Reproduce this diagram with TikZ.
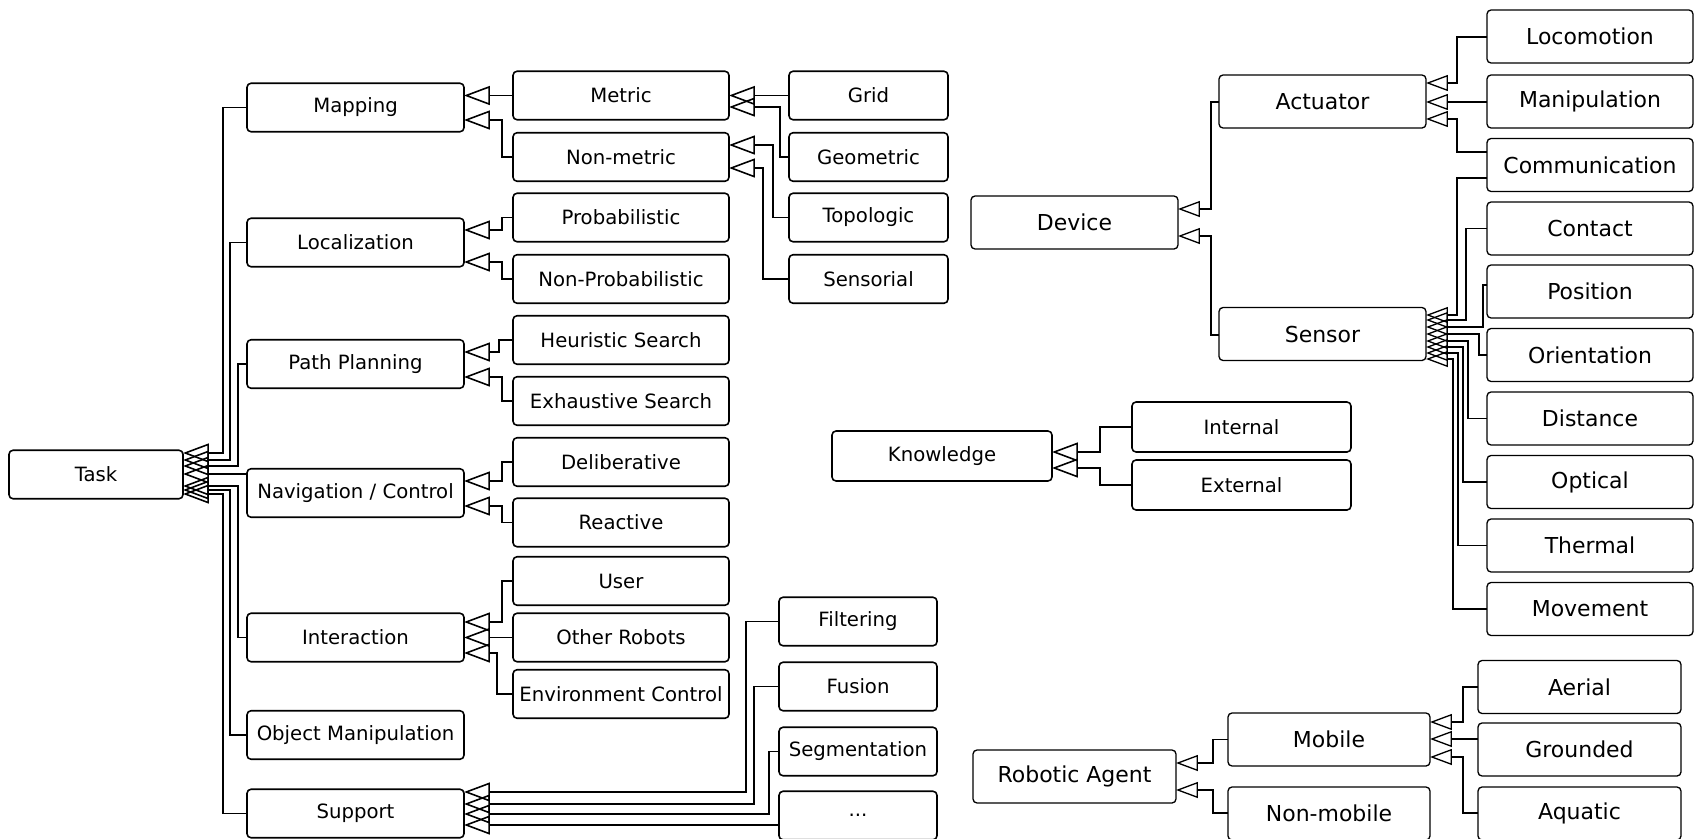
\documentclass[tikz,border=0pt]{standalone}
\usepackage{fontspec}
\setmainfont{DejaVu Sans}
\usetikzlibrary{arrows.meta}
\def\isa[#1](#2:#3)(#4)(#5:#6){\draw[#1] (#2.west |- 0,#3) -| (#4,#6) -- (#5.east |- 0,#6)}

\begin{document}
\begin{tikzpicture}[x=0.02cm, y=-0.02cm,
    box/.style={draw, rounded corners=0.08cm, inner sep=0pt, outer sep=0pt},
    lbox/.style={box, line width=0.9pt, minimum height=0.97cm, font=\fontsize{11.2}{13}\selectfont},
    rbox/.style={box, line width=0.75pt, minimum height=1.06cm, font=\fontsize{12.5}{15}\selectfont},
    lgen/.style={line width=0.9pt, -{Triangle[open,length=0.52cm,width=0.38cm]}},
    rgen/.style={line width=0.75pt, -{Triangle[open,length=0.44cm,width=0.32cm]}}]
			\useasboundingbox (0,0) rectangle (1695,839);
			%%%%% TASK %%%%%
			\node[lbox, minimum width=3.48cm] (task) at (96,474.5) {Task};
			
			\node[lbox, minimum width=4.34cm] (mapping) at (355.5,107.5) {Mapping};
			\node[lbox, minimum width=4.34cm] (localization) at (355.5,242.5) {Localization};
			\node[lbox, minimum width=4.34cm] (planning) at (355.5,364) {Path Planning};
			\node[lbox, minimum width=4.34cm] (navigation) at (355.5,493) {Navigation / Control};
			\node[lbox, minimum width=4.34cm] (interaction) at (355.5,637.5) {Interaction};
			\node[lbox, minimum width=4.34cm] (objmanip) at (355.5,735) {Object Manipulation};
			\node[lbox, minimum width=4.34cm] (support) at (355.5,813.5) {Support};
			
			\node[lbox, minimum width=4.32cm] (metric) at (621,95.5) {Metric};
			\node[lbox, minimum width=4.32cm] (nonmetric) at (621,157) {Non-metric};
			\node[lbox, minimum width=4.32cm] (prob) at (621,217.5) {Probabilistic};
			\node[lbox, minimum width=4.32cm] (nonprob) at (621,279) {Non-Probabilistic};
			\node[lbox, minimum width=4.32cm] (heuristic) at (621,340) {Heuristic Search};
			\node[lbox, minimum width=4.32cm] (exhaustive) at (621,401) {Exhaustive Search};
			\node[lbox, minimum width=4.32cm] (deliberative) at (621,462) {Deliberative};
			\node[lbox, minimum width=4.32cm] (reactive) at (621,522.5) {Reactive};
			\node[lbox, minimum width=4.32cm] (user) at (621,581) {User};
			\node[lbox, minimum width=4.32cm] (robots) at (621,637.5) {Other Robots};
			\node[lbox, minimum width=4.32cm] (envcontrol) at (621,694) {Environment Control};
			
			\node[lbox, minimum width=3.18cm] (grid) at (868.5,95.5) {Grid};
			\node[lbox, minimum width=3.18cm] (geometric) at (868.5,157) {Geometric};
			\node[lbox, minimum width=3.18cm] (topologic) at (868.5,217.5) {Topologic};
			\node[lbox, minimum width=3.18cm] (sensorial) at (868.5,279) {Sensorial};
			
			\node[lbox, minimum width=3.16cm] (filtering) at (858,621.5) {Filtering};
			\node[lbox, minimum width=3.16cm] (fusion) at (858,686.5) {Fusion};
			\node[lbox, minimum width=3.16cm] (segmentation) at (858,751.5) {Segmentation};
			\node[lbox, minimum width=3.16cm] (more) at (858,815.5) {...};
			
			\isa[lgen](mapping:107.5)(223)(task:453);
			\isa[lgen](localization:242.5)(230)(task:460);
			\isa[lgen](planning:364)(238)(task:466);
			\isa[lgen](navigation:474)(238)(task:474);
			\isa[lgen](interaction:637.5)(238)(task:486);
			\isa[lgen](objmanip:735)(230)(task:490);
			\isa[lgen](support:813.5)(223)(task:494);
			
			\isa[lgen](metric:95.5)(502)(mapping:95.5);
			\isa[lgen](nonmetric:157)(502)(mapping:120);
			\isa[lgen](grid:95.5)(780)(metric:95.5);
			\isa[lgen](geometric:157)(780)(metric:107);
			\isa[lgen](topologic:217.5)(773)(nonmetric:145);
			\isa[lgen](sensorial:279)(763)(nonmetric:168);
			
			\isa[lgen](prob:217.5)(502)(localization:230);
			\isa[lgen](nonprob:279)(502)(localization:262);
			\isa[lgen](heuristic:340)(499)(planning:352);
			\isa[lgen](exhaustive:401)(502)(planning:377);
			\isa[lgen](deliberative:462)(502)(navigation:481);
			\isa[lgen](reactive:522.5)(502)(navigation:506);
			\isa[lgen](user:581)(502)(interaction:622);
			\isa[lgen](robots:637.5)(502)(interaction:637.5);
			\isa[lgen](envcontrol:694)(497)(interaction:653);
			
			\isa[lgen](filtering:621.5)(746)(support:792);
			\isa[lgen](fusion:686.5)(754)(support:804);
			\isa[lgen](segmentation:751.5)(769)(support:814);
			\isa[lgen](more:825)(769)(support:825);
			
			%%%%% DEVICE %%%%%
			\node[rbox, minimum width=4.14cm] (device) at (1074.5,222.5) {Device};
			\node[rbox, minimum width=4.14cm] (actuator) at (1322.5,101.5) {Actuator};
			\node[rbox, minimum width=4.14cm] (sensor) at (1322.5,334) {Sensor};
			
			\node[rbox, minimum width=4.12cm] (locomotion) at (1590,36.5) {Locomotion};
			\node[rbox, minimum width=4.12cm] (manipulation) at (1590,101.5) {Manipulation};
			\node[rbox, minimum width=4.12cm] (communication) at (1590,165) {Communication};
			\node[rbox, minimum width=4.12cm] (contact) at (1590,228.5) {Contact};
			\node[rbox, minimum width=4.12cm] (position) at (1590,291.5) {Position};
			\node[rbox, minimum width=4.12cm] (orientation) at (1590,355) {Orientation};
			\node[rbox, minimum width=4.12cm] (distance) at (1590,418.5) {Distance};
			\node[rbox, minimum width=4.12cm] (optical) at (1590,482) {Optical};
			\node[rbox, minimum width=4.12cm] (thermal) at (1590,545.5) {Thermal};
			\node[rbox, minimum width=4.12cm] (movement) at (1590,609) {Movement};
			
			\isa[rgen](actuator:102)(1211)(device:209);
			\isa[rgen](sensor:335)(1211)(device:236);
			
			\isa[rgen](locomotion:37)(1457)(actuator:83);
			\isa[rgen](manipulation:102)(1457)(actuator:102);
			\isa[rgen](communication:152)(1457)(actuator:119);
			
			\isa[rgen](communication:178)(1457)(sensor:315);
			\isa[rgen](contact:228.5)(1466)(sensor:320);
			\isa[rgen](position:285)(1483)(sensor:327);
			\isa[rgen](orientation:355)(1479)(sensor:334);
			\isa[rgen](distance:418.5)(1468)(sensor:341);
			\isa[rgen](optical:482)(1463)(sensor:347);
			\isa[rgen](thermal:545.5)(1458)(sensor:353);
			\isa[rgen](movement:609)(1453)(sensor:359);
			
			%%%%% KNOWLEDGE %%%%%
			\node[lbox, minimum width=4.4cm, minimum height=1cm] (knowledge) at (942,456) {Knowledge};
			\node[lbox, minimum width=4.38cm, minimum height=1cm] (internal) at (1241.5,427) {Internal};
			\node[lbox, minimum width=4.38cm, minimum height=1cm] (external) at (1241.5,485) {External};
			
			\isa[lgen](internal:427)(1100)(knowledge:452);
			\isa[lgen](external:485)(1100)(knowledge:468);
			
			%%%%% ROBOTIC AGENT %%%%%
			\node[rbox, minimum width=4.06cm] (agent) at (1074.5,776.5) {Robotic Agent};
			\node[rbox, minimum width=4.04cm] (mobile) at (1329,739.5) {Mobile};
			\node[rbox, minimum width=4.04cm] (nonmobile) at (1329,813.5) {Non-mobile};
			\node[rbox, minimum width=4.06cm] (aerial) at (1579.5,687) {Aerial};
			\node[rbox, minimum width=4.06cm] (grounded) at (1579.5,749.5) {Grounded};
			\node[rbox, minimum width=4.06cm] (aquatic) at (1579.5,813.5) {Aquatic};
			
			\isa[rgen](mobile:739.5)(1213)(agent:763);
			\isa[rgen](nonmobile:813)(1213)(agent:790);
			\isa[rgen](aerial:687)(1463)(mobile:722);
			\isa[rgen](grounded:739)(1463)(mobile:739);
			\isa[rgen](aquatic:813)(1463)(mobile:757);
			%%%%% END %%%%%
		\end{tikzpicture}
\end{document}
